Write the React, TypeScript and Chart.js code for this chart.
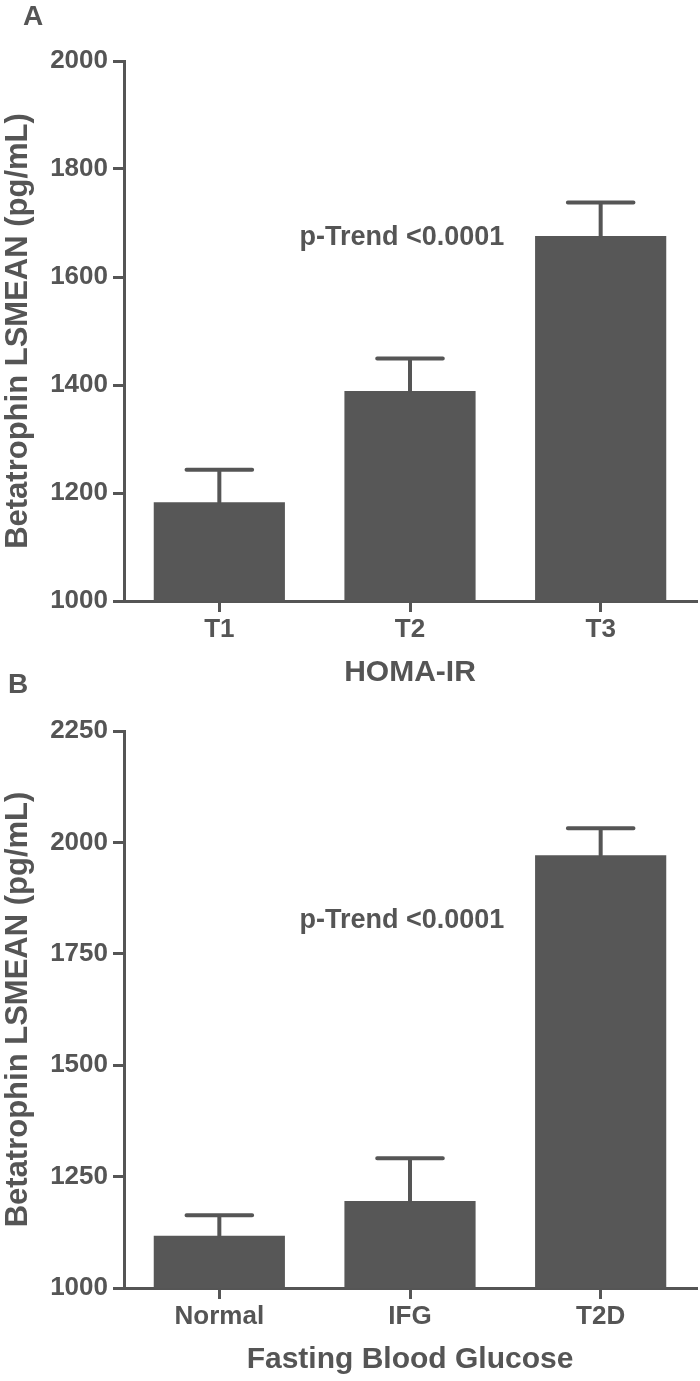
import React, { useEffect, useRef } from "react";
import { Chart, registerables } from "chart.js";

Chart.register(...registerables);

// ---------- Data ----------
const homaCategories = ["T1", "T2", "T3"];
const homaMeans = [1183, 1389, 1676];
const homaErrors = [60, 60, 62];
const homaAxis = { min: 1000, max: 2000, step: 200 };

const fbgCategories = ["Normal", "IFG", "T2D"];
const fbgMeans = [1117, 1195, 1971];
const fbgErrors = [46, 96, 61];
const fbgAxis = { min: 1000, max: 2250, step: 250 };

const yAxisTitle = "Betatrophin LSMEAN (pg/mL)";
const homaTitle = "HOMA-IR";
const fbgTitle = "Fasting Blood Glucose";
const pTrendText = "p-Trend <0.0001";
// annotation anchor in data units: [category index, y value]
const homaTrendAt = [0.42, 1659];
const fbgTrendAt = [0.42, 1808];

const FONT = "'Liberation Sans', Arial, Helvetica, sans-serif";
const INK = "#555555";
const BAR = "#575757";

const errorBarPlugin = {
  id: "errorBars",
  afterDatasetsDraw(chart: any, _args: any, opts: any) {
    const { ctx } = chart;
    const meta = chart.getDatasetMeta(0);
    const yScale = chart.scales.y;
    const values = chart.data.datasets[0].data as number[];
    ctx.save();
    ctx.strokeStyle = opts.color;
    ctx.lineWidth = opts.width;
    ctx.lineCap = "round";
    meta.data.forEach((bar: any, i: number) => {
      const top = yScale.getPixelForValue(values[i] + opts.errors[i]);
      const half = (bar.width * opts.capRatio) / 2;
      ctx.beginPath();
      ctx.moveTo(bar.x, bar.y);
      ctx.lineTo(bar.x, top);
      ctx.moveTo(bar.x - half, top);
      ctx.lineTo(bar.x + half, top);
      ctx.stroke();
    });
    ctx.restore();
  },
};

const annotationPlugin = {
  id: "panelText",
  afterDraw(chart: any, _args: any, opts: any) {
    const { ctx } = chart;
    ctx.save();
    ctx.fillStyle = INK;
    // panel letter
    ctx.font = `bold 28px ${FONT}`;
    ctx.textAlign = "left";
    ctx.textBaseline = "alphabetic";
    ctx.fillText(opts.letter, opts.letterX, opts.letterY);
    // p-trend text
    const x = chart.scales.x.getPixelForValue(opts.trendAt[0]);
    const y = chart.scales.y.getPixelForValue(opts.trendAt[1]);
    ctx.font = `bold 27px ${FONT}`;
    ctx.fillText(opts.trendText, x, y);
    ctx.restore();
  },
};

type PanelProps = {
  width: number;
  height: number;
  top: number;
  padTop: number;
  padBottom: number;
  categories: string[];
  means: number[];
  errors: number[];
  axis: { min: number; max: number; step: number };
  xTitle: string;
  letter: string;
  letterX: number;
  letterY: number;
  trendAt: number[];
};

function Panel(p: PanelProps) {
  const ref = useRef<HTMLCanvasElement | null>(null);
  useEffect(() => {
    if (!ref.current) return;
    const chart = new Chart(ref.current, {
      type: "bar",
      data: {
        labels: p.categories,
        datasets: [
          {
            data: p.means,
            backgroundColor: BAR,
            borderWidth: 0,
            categoryPercentage: 1,
            barPercentage: 0.688,
          },
        ],
      },
      options: {
        responsive: false,
        animation: false,
        devicePixelRatio: 1,
        layout: { padding: { top: p.padTop, right: 4, bottom: p.padBottom, left: 0 } },
        plugins: {
          legend: { display: false },
          tooltip: { enabled: false },
          errorBars: { errors: p.errors, color: INK, width: 4, capRatio: 0.5 },
          panelText: {
            letter: p.letter,
            letterX: p.letterX,
            letterY: p.letterY,
            trendAt: p.trendAt,
            trendText: pTrendText,
          },
        } as any,
        scales: {
          x: {
            afterFit: (s: any) => {
              s.height = 90;
            },
            grid: {
              display: true,
              offset: false,
              drawOnChartArea: false,
              drawTicks: true,
              tickLength: 11,
              color: INK,
              lineWidth: 3,
            },
            border: { display: true, color: INK, width: 3 },
            ticks: {
              color: INK,
              padding: 2,
              font: { family: FONT, size: 26, weight: "bold" },
            },
            title: {
              display: true,
              text: p.xTitle,
              color: INK,
              padding: 0,
              font: { family: FONT, size: 30, weight: "bold" },
            },
          },
          y: {
            min: p.axis.min,
            max: p.axis.max,
            afterFit: (s: any) => {
              s.width = 124;
            },
            grid: {
              display: true,
              drawOnChartArea: false,
              drawTicks: true,
              tickLength: 11,
              color: INK,
              lineWidth: 3,
            },
            border: { display: true, color: INK, width: 3 },
            ticks: {
              stepSize: p.axis.step,
              color: INK,
              padding: 5,
              font: { family: FONT, size: 26, weight: "bold" },
              callback: (v: any) => String(v),
            },
            title: {
              display: true,
              text: yAxisTitle,
              color: INK,
              padding: 0,
              font: { family: FONT, size: 31, weight: "bold" },
            },
          },
        },
      },
      plugins: [errorBarPlugin, annotationPlugin],
    } as any);
    return () => chart.destroy();
  }, []);
  return (
    <canvas
      ref={ref}
      width={p.width}
      height={p.height}
      style={{
        position: "absolute",
        left: 0,
        top: p.top,
        width: p.width,
        height: p.height,
        display: "block",
      }}
    />
  );
}

export default function App() {
  return (
    <div
      style={{
        position: "absolute",
        left: 0,
        top: 0,
        width: 700,
        height: 1381,
        background: "#ffffff",
      }}
    >
      <Panel
        width={700}
        height={700}
        top={0}
        padTop={61}
        padBottom={9}
        categories={homaCategories}
        means={homaMeans}
        errors={homaErrors}
        axis={homaAxis}
        xTitle={homaTitle}
        letter="A"
        letterX={23}
        letterY={25}
        trendAt={homaTrendAt}
      />
      <Panel
        width={700}
        height={721}
        top={660}
        padTop={71}
        padBottom={3}
        categories={fbgCategories}
        means={fbgMeans}
        errors={fbgErrors}
        axis={fbgAxis}
        xTitle={fbgTitle}
        letter="B"
        letterX={8}
        letterY={33}
        trendAt={fbgTrendAt}
      />
    </div>
  );
}
